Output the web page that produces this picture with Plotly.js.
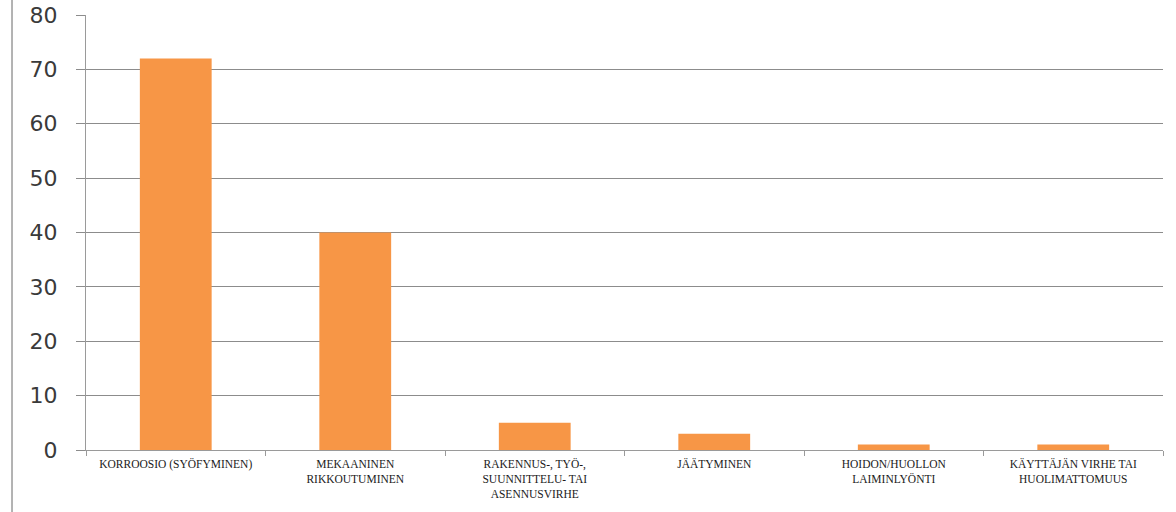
<!DOCTYPE html>
<html>
<head>
<meta charset="utf-8">
<script src="https://cdn.plot.ly/plotly-3.0.1.min.js"></script>
<style>
  html, body { margin: 0; padding: 0; background: #ffffff; }
  #chart { width: 1176px; height: 512px; }
</style>
</head>
<body>
<div id="chart"></div>
<script>
const categories = [
  "KORROOSIO (SYÖFYMINEN)",
  "MEKAANINEN<br>RIKKOUTUMINEN",
  "RAKENNUS-, TYÖ-,<br>SUUNNITTELU- TAI<br>ASENNUSVIRHE",
  "JÄÄTYMINEN",
  "HOIDON/HUOLLON<br>LAIMINLYÖNTI",
  "KÄYTTÄJÄN VIRHE TAI<br>HUOLIMATTOMUUS"
];
const values = [72, 40, 5, 3, 1, 1];
const yTicks = [0, 10, 20, 30, 40, 50, 60, 70, 80];

const trace = {
  type: "bar",
  x: categories,
  y: values,
  width: 0.4,
  marker: { color: "#F79646", line: { width: 0 } },
  hoverinfo: "x+y"
};

const layout = {
  width: 1176,
  height: 512,
  margin: { l: 86, r: 13, t: 15, b: 62 },
  paper_bgcolor: "#ffffff",
  plot_bgcolor: "#ffffff",
  showlegend: false,
  bargap: 0.6,
  xaxis: {
    type: "category",
    showgrid: false,
    showline: true,
    linecolor: "#9a9a9a",
    linewidth: 1,
    ticks: "outside",
    tickson: "boundaries",
    ticklen: 5,
    tickcolor: "#9a9a9a",
    ticklabelstandoff: 3,
    tickfont: { family: "Liberation Serif, DejaVu Serif, serif", size: 11.5, color: "#1a1a1a" },
    tickangle: 0,
    fixedrange: true
  },
  yaxis: {
    range: [0, 80],
    tickvals: yTicks,
    ticktext: yTicks.map(String),
    showgrid: true,
    gridcolor: "#8c8c8c",
    gridwidth: 1,
    zeroline: false,
    showline: true,
    linecolor: "#9a9a9a",
    linewidth: 1,
    ticks: "outside",
    ticklen: 9,
    tickcolor: "#8c8c8c",
    ticklabelstandoff: 14,
    tickfont: { family: "DejaVu Sans, sans-serif", size: 22, color: "#3a3a3a" },
    fixedrange: true
  },
  shapes: [
    {
      type: "line",
      xref: "paper", yref: "paper",
      x0: -0.0687, x1: -0.0687,
      y0: -0.2, y1: 1.1,
      line: { color: "#9a9a9a", width: 1.5 }
    }
  ]
};

Plotly.newPlot("chart", [trace], layout, { displayModeBar: false, staticPlot: true });
</script>
</body>
</html>
